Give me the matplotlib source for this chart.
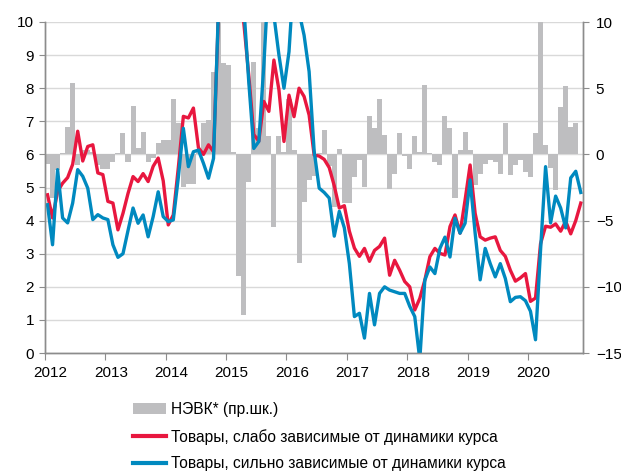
import numpy as np
import matplotlib.pyplot as plt
from matplotlib.patches import Patch
from matplotlib.lines import Line2D

# monthly data, Jan 2012 .. Nov 2020
years = ['2012', '2013', '2014', '2015', '2016', '2017', '2018', '2019', '2020']

# NEER, m/m change, % (right scale)
neer = [
    -0.7, -3.3, -1.2, 0.1, 2.1, 5.4, -0.8, 0.3, 0.3, 0.2, -0.8, -1.1,
    -1.1, -0.6, 0.1, 1.65, -0.55, 3.65, 0.5, 1.7, -0.55, -0.3, 0.85, 1.1,
    1.1, 4.2, 2.35, -2.45, -2.2, -2.2, 0.4, 2.35, 2.6, 6.2, 13.0, 6.9,
    6.75, 0.2, -9.2, -12.1, -2.1, 7.0, 2.0, 10.5, 1.4, -5.5, 1.4, 0.2,
    4.2, 0.3, -8.2, -3.6, -1.9, -1.6, 0.1, 1.85, -0.9, -4.0, 0.4, -3.65,
    -3.65, -1.7, -0.4, -2.45, 2.9, 2.0, 4.15, 1.5, -2.6, -1.5, 1.6, -0.1,
    -1.1, 1.4, 0.2, 5.25, 0.1, -0.55, -0.8, 2.9, 2.0, -3.3, 0.3, 1.7,
    0.3, -2.3, -1.45, -0.7, -0.45, -0.55, -1.5, 2.35, -1.55, -0.8, -0.45, -1.3,
    -1.7, 1.6, 11.0, 0.7, -1.05, -2.7, 3.55, 5.15, 2.05, 2.4,
]

# goods weakly dependent on the exchange rate, % y/y
weak_dep = [
    4.78, 4.08, 4.88, 5.13, 5.3, 5.7, 6.7, 5.8, 6.24, 6.29, 5.44, 5.39,
    4.58, 4.53, 3.72, 4.22, 4.82, 5.33, 5.18, 5.42, 5.18, 5.64, 5.89, 5.2,
    3.87, 4.17, 5.6, 7.15, 7.1, 7.4, 6.2, 6.0, 6.29, 6.08, 10.3, 12.0,
    14.0, 15.5, 13.0, 10.0, 8.4, 6.6, 6.4, 7.6, 7.3, 8.85, 7.95, 6.39,
    7.79, 7.14, 8.0, 7.75, 7.19, 5.98, 5.95, 5.85, 5.6, 5.05, 4.38, 4.45,
    3.68, 3.17, 2.92, 3.16, 2.77, 3.1, 3.22, 3.47, 2.35, 2.8, 2.5, 2.16,
    2.0, 1.3, 1.65, 2.2, 2.91, 3.16, 3.01, 2.96, 3.82, 4.17, 3.62, 4.62,
    5.68, 4.22, 3.51, 3.41, 3.47, 3.51, 3.1, 2.92, 2.5, 2.17, 2.27, 2.4,
    1.56, 1.66, 3.3, 3.83, 3.8, 3.9, 3.68, 3.98, 3.6, 4.0, 4.53,
]

# goods strongly dependent on the exchange rate, % y/y
strong_dep = [
    4.48, 3.27, 5.54, 4.08, 3.93, 4.53, 5.54, 5.34, 4.98, 4.03, 4.18, 4.08,
    4.03, 3.27, 2.89, 3.0, 3.7, 4.38, 3.92, 4.17, 3.51, 4.12, 4.87, 4.12,
    3.97, 4.02, 5.3, 6.79, 5.63, 6.08, 6.13, 5.73, 5.28, 5.88, 10.5, 13.0,
    15.0, 18.0, 16.0, 10.5, 8.2, 6.18, 6.39, 8.7, 11.5, 10.2, 9.0, 8.0,
    9.1, 11.5, 10.3, 9.6, 8.5, 6.1, 4.98, 4.85, 4.68, 3.53, 4.28, 3.78,
    2.7, 1.1, 1.2, 0.45, 1.8, 0.85, 1.8, 2.0, 1.9, 1.85, 1.8, 1.8,
    1.41, 1.1, -0.2, 2.2, 2.6, 2.4, 3.16, 3.5, 2.9, 4.07, 3.62, 3.92,
    5.23, 3.62, 2.21, 3.16, 2.7, 2.3, 2.7, 2.25, 1.55, 1.68, 1.7, 1.58,
    1.26, 0.4, 3.1, 5.63, 3.93, 4.74, 4.38, 3.78, 5.29, 5.49, 4.85,
]

labels = ['НЭВК* (пр.шк.)',
          'Товары, слабо зависимые от динамики курса',
          'Товары, сильно зависимые от динамики курса']

RED = '#E8173F'
BLUE = '#0089BF'
BAR = '#BEBEC0'
AXIS = '#8C8C8C'
GRID = '#D9D9D9'

plt.rcParams['font.family'] = ['Liberation Sans', 'DejaVu Sans']

fig = plt.figure(figsize=(6.21, 4.73), dpi=100)
ax = fig.add_axes([45 / 621, 1 - 353 / 473, 538.3 / 621, 331 / 473])
ax2 = ax.twinx()
ax.set_zorder(ax2.get_zorder() + 1)
ax.patch.set_visible(False)

ax.set_ylim(0, 10)
ax2.set_ylim(-15, 10)
ax.set_xlim(-0.5, 106.5)

# horizontal grid behind the bars, at the left-scale ticks
for v in range(0, 11):
    ax2.axhline(ax2.get_ylim()[0] + v * 2.5, color=GRID, lw=1, zorder=0)

ax2.bar(np.arange(len(neer)), neer, width=1.0, color=BAR, linewidth=0, zorder=1)

x = np.arange(len(weak_dep))
ax.plot(x, weak_dep, color=RED, lw=2.4, solid_joinstyle='round')
ax.plot(x, strong_dep, color=BLUE, lw=2.4, solid_joinstyle='round')

# axes styling
for a in (ax, ax2):
    a.spines['top'].set_visible(False)
    for s in ('left', 'right', 'bottom'):
        a.spines[s].set_color(AXIS)
        a.spines[s].set_linewidth(1)

ax.set_yticks(range(0, 11))
ax.tick_params(axis='y', length=4, color=AXIS, labelsize=11, pad=4)
ax2.set_yticks(range(-15, 11, 5))
ax2.tick_params(axis='y', length=4, color=AXIS, labelsize=11, pad=5)

ax.set_xticks([12 * k - 0.5 for k in range(len(years))])
ax.set_xticklabels([])
ax.set_xticks([12 * k + 0.6 for k in range(len(years))], minor=True)
ax.set_xticklabels(years, minor=True)
ax.tick_params(axis='x', which='major', length=5, color=AXIS)
ax.tick_params(axis='x', which='minor', length=0, pad=9, labelsize=11)
ax2.tick_params(axis='x', length=0)

handles = [Patch(facecolor=BAR, edgecolor='none'),
           Line2D([], [], color=RED, lw=3),
           Line2D([], [], color=BLUE, lw=3)]
fig.legend(handles, labels, loc='upper left',
           bbox_to_anchor=(133 / 621, 1 - 402 / 473),
           frameon=False, fontsize=11.2, handlelength=2.15, handletextpad=0.3,
           labelspacing=0.76, borderaxespad=0, borderpad=0)

fig.savefig('out.png', dpi=100)
